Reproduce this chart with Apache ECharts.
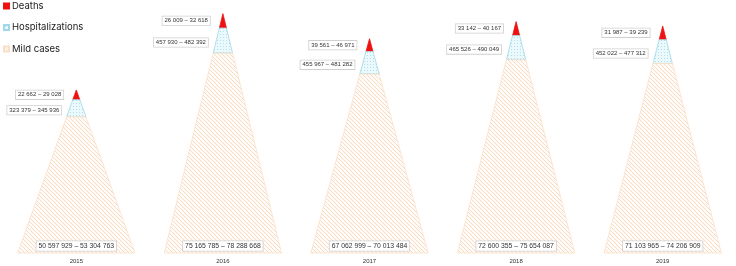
<!DOCTYPE html>
<html><head><meta charset="utf-8">
<script src="https://cdn.jsdelivr.net/npm/echarts@6/dist/echarts.min.js"></script>
<style>html,body{margin:0;padding:0;background:#fff}#c{width:736px;height:266px}</style>
</head><body><div id="c"></div>
<script>
const years = ['2015','2016','2017','2018','2019'];
const deathsLow  = [22662, 26009, 39561, 33142, 31987];
const deathsHigh = [29028, 32618, 46971, 40167, 39239];
const hospLow    = [323379, 457930, 455967, 465526, 452022];
const hospHigh   = [345936, 482392, 481282, 490049, 477312];
const mildLow    = [50597929, 75165785, 67062999, 72600355, 71103965];
const mildHigh   = [53304763, 78288668, 70013484, 75654087, 74206909];
const seriesNames = ['Deaths','Hospitalizations','Mild cases'];

const totals = years.map((y,i)=>deathsHigh[i]+hospHigh[i]+mildHigh[i]);

function fmt(n){return String(n).replace(/\B(?=(\d{3})+(?!\d))/g,' ');}

function makePattern(kind){
  const c=document.createElement('canvas');
  if(kind==='hatch'){
    c.width=4;c.height=4;const g=c.getContext('2d');
    g.fillStyle='#fffcf9';g.fillRect(0,0,4,4);
    g.strokeStyle='rgba(245,200,160,0.8)';g.lineWidth=0.8;
    g.beginPath();g.moveTo(-1,-1);g.lineTo(5,5);g.moveTo(-1,3);g.lineTo(1,5);g.moveTo(3,-1);g.lineTo(5,1);g.stroke();
  } else {
    c.width=3;c.height=3;const g=c.getContext('2d');
    g.fillStyle='#ebf9fc';g.fillRect(0,0,3,3);
    g.fillStyle='rgba(130,205,228,0.55)';g.fillRect(1,1,1,1);
  }
  return {image:c, repeat:'repeat'};
}
const mildFill = makePattern('hatch');
const hospFill = makePattern('dots');

const layerStyle = [
  {fill:'#ee1111', stroke:'#ee1111'},
  {fill:hospFill, stroke:'#9fd8e6'},
  {fill:mildFill, stroke:'#f9dfc8'}
];
const FR = [0, 0.06, 0.165, 1];
const lows = [deathsLow, hospLow, mildLow];
const highs = [deathsHigh, hospHigh, mildHigh];

function renderLayer(k){
  return function(params, api){
    const i = api.value(0);
    const top = api.coord([i, api.value(1)]);
    const base = api.coord([i, 0]);
    const H = base[1]-top[1];
    const W = api.size([1,0])[0]*0.4;
    const cx = top[0];
    const f0=FR[k], f1=FR[k+1];
    const y0=top[1]+f0*H, y1=top[1]+f1*H;
    const pts = f0===0 ? [[cx,y0],[cx+f1*W,y1],[cx-f1*W,y1]]
                       : [[cx-f0*W,y0],[cx+f0*W,y0],[cx+f1*W,y1],[cx-f1*W,y1]];
    const st = layerStyle[k];
    const txt = fmt(api.value(2))+' – '+fmt(api.value(3));
    let tx, ty, align, fs;
    if(k===0){tx=cx-13; ty=(y0+y1)/2; align='right'; fs=6;}
    else if(k===1){tx=cx-15; ty=(y0+y1)/2+2; align='right'; fs=6;}
    else {tx=cx; ty=base[1]-7; align='center'; fs=6.8;}
    return {type:'group', children:[
      {type:'polygon', shape:{points:pts}, style:{fill:st.fill, stroke:st.stroke, lineWidth:0.8}},
      {type:'text', z2:10, style:{text:txt, x:tx, y:ty, align:align, verticalAlign:'middle',
        fontSize:fs, fontFamily:'Liberation Sans, Arial, sans-serif', fill:'#333',
        backgroundColor:'#fff', borderColor:'#cfcfcf', borderWidth:0.8, padding:[1.5,2,1,2]}}
    ]};
  };
}

const series = seriesNames.map((name,k)=>({
  type:'custom', name:name, silent:true, animation:false,
  itemStyle:{color:layerStyle[k].fill, borderColor:layerStyle[k].stroke, borderWidth:0.6},
  data: years.map((y,i)=>[i, totals[i], lows[k][i], highs[k][i]]),
  renderItem: renderLayer(k)
}));

const chart = echarts.init(document.getElementById('c'), null, {renderer:'canvas'});
chart.setOption({
  animation:false,
  legend:{left:3, top:1, padding:0, orient:'vertical', icon:'rect', itemWidth:5, itemHeight:5, itemGap:11.5,
    textStyle:{fontSize:9.5, color:'#222', fontFamily:'Inter, Roboto, sans-serif', padding:[0,0,0,-2]},
    selectedMode:false, data:seriesNames},
  grid:{left:3, right:-12, top:10, bottom:13},
  xAxis:{type:'category', data:years, axisLine:{show:false}, axisTick:{show:false},
    axisLabel:{fontSize:6, color:'#333', margin:5, fontFamily:'Liberation Sans, Arial, sans-serif'}},
  yAxis:{type:'value', show:false, min:0, max:80000000, splitLine:{show:false}},
  series:series
});
</script></body></html>
